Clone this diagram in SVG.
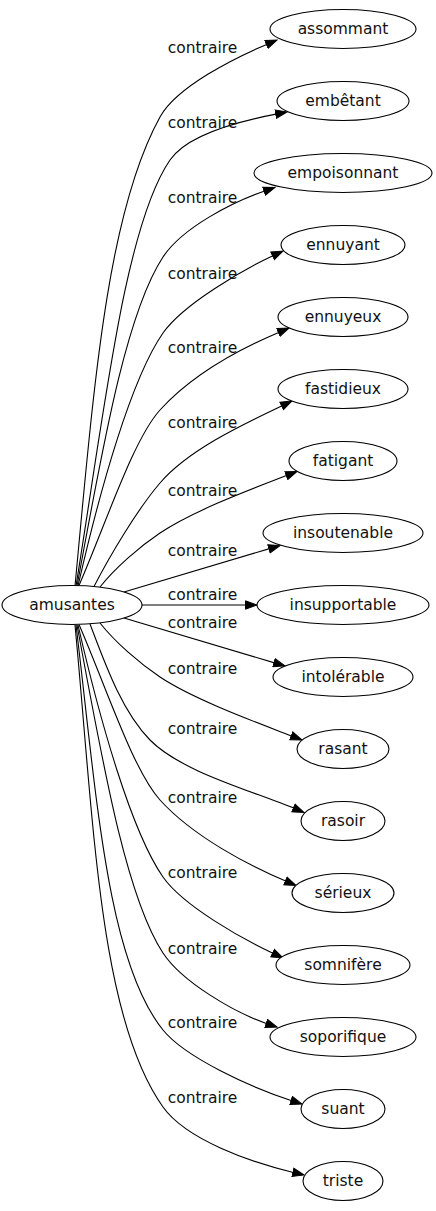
<svg xmlns="http://www.w3.org/2000/svg" width="436" height="1211" viewBox="0 0 436 1211">
<style>
.n ellipse{fill:#fff;stroke:#000;stroke-width:1.1}
text{font-family:"DejaVu Sans",sans-serif;font-size:15.5px;fill:#111;text-anchor:middle}
.e path{fill:none;stroke:#000;stroke-width:1.1;marker-end:url(#ah)}
</style>
<defs>
<marker id="ah" markerUnits="userSpaceOnUse" viewBox="-2 -5 13 10" markerWidth="13" markerHeight="10" refX="0" refY="0" orient="auto">
<path d="M-1.5,-4.2 L10,0 L-1.5,4.2 Z" fill="#000" stroke="#000" stroke-width="1"/>
</marker>
</defs>
<rect width="436" height="1211" fill="#fff"/>
<g id="connectors" class="e">
<path d="M75,586 C93.8,387 106.8,213.25 160,117 C177,86.4 235.6,57.55 267.8,43.9"/>
<path d="M76,586 C104.8,408.3 124.8,226 170,160 C187,135.25 237.9,121.4 277.2,113.9"/>
<path d="M77,586 C100.9,458.2 124.5,315.5 163,257 C182.25,227.8 232.4,202 265.5,190.7"/>
<path d="M78,586 C100.2,488.5 131.5,378.1 163,333 C183,304.3 242.3,270.1 273.95,255.25"/>
<path d="M79,585.5 C107,520.8 133.2,439.7 160,410 C193.6,372.9 243,347.5 279.8,331.9"/>
<path d="M94,586.5 C109.75,555.85 137.2,509.6 160,483 C189.3,448.8 247,422.6 283,405.3"/>
<path d="M100,587 C115,568 139.2,546.9 160,533 C193.3,510.8 250.4,489.5 287.7,475.1"/>
<path d="M124,592 C170,578 220,563 270.4,548.4"/>
<path d="M142,605 L247,605"/>
<path d="M124,618 C170,632 220,647 275.4,663.1"/>
<path d="M100,623 C115,642 139.2,663.1 160,677 C193.3,699.2 255.35,722 292.67,736.4"/>
<path d="M90,624 C105.75,665.6 122,711.4 150,740 C181.5,772.1 253.4,791.05 294.8,808.6"/>
<path d="M79,624.5 C107,689.2 133.2,770.3 160,800 C193.6,837.1 250,866 286.8,881.6"/>
<path d="M78,625 C100.2,721.5 131.5,831.9 163,877 C183,905.7 242.3,939 273.95,953.75"/>
<path d="M77,625 C100.9,751.8 124.5,894.5 163,953 C182.25,982.2 234.5,1012.6 267.6,1023.9"/>
<path d="M76,625 C96.4,792.8 106.5,960 163,1030 C185,1057.2 249.7,1087.1 292.5,1100.9"/>
<path d="M75,625 C93.8,823 99.2,1017.5 163,1107 C186.2,1139.6 250.5,1162.35 294.3,1172.7"/>
<text x="202.5" y="53">contraire</text>
<text x="202.5" y="128">contraire</text>
<text x="202.5" y="203">contraire</text>
<text x="202.5" y="279">contraire</text>
<text x="202.5" y="353">contraire</text>
<text x="202.5" y="428">contraire</text>
<text x="202.5" y="496">contraire</text>
<text x="202.5" y="556">contraire</text>
<text x="202.5" y="600">contraire</text>
<text x="202.5" y="628">contraire</text>
<text x="202.5" y="674">contraire</text>
<text x="202.5" y="734">contraire</text>
<text x="202.5" y="803">contraire</text>
<text x="202.5" y="878">contraire</text>
<text x="202.5" y="954">contraire</text>
<text x="202.5" y="1028">contraire</text>
<text x="202.5" y="1103">contraire</text>
</g>
<g id="node-amusantes" class="n"><ellipse cx="72" cy="605" rx="70" ry="19.5"/><text x="72" y="610">amusantes</text></g>
<g id="node-assommant" class="n"><ellipse cx="343" cy="29" rx="73" ry="19.5"/><text x="343" y="34">assommant</text></g>
<g id="node-embetant" class="n"><ellipse cx="343" cy="101" rx="66" ry="19.5"/><text x="343" y="106">embêtant</text></g>
<g id="node-empoisonnant" class="n"><ellipse cx="343" cy="173" rx="89" ry="19.5"/><text x="343" y="178">empoisonnant</text></g>
<g id="node-ennuyant" class="n"><ellipse cx="343" cy="245" rx="62" ry="19.5"/><text x="343" y="250">ennuyant</text></g>
<g id="node-ennuyeux" class="n"><ellipse cx="343" cy="317" rx="65" ry="19.5"/><text x="343" y="322">ennuyeux</text></g>
<g id="node-fastidieux" class="n"><ellipse cx="343" cy="389" rx="65" ry="19.5"/><text x="343" y="394">fastidieux</text></g>
<g id="node-fatigant" class="n"><ellipse cx="343" cy="461" rx="54" ry="19.5"/><text x="343" y="466">fatigant</text></g>
<g id="node-insoutenable" class="n"><ellipse cx="343" cy="533" rx="80" ry="19.5"/><text x="343" y="538">insoutenable</text></g>
<g id="node-insupportable" class="n"><ellipse cx="343" cy="605" rx="86" ry="19.5"/><text x="343" y="610">insupportable</text></g>
<g id="node-intolerable" class="n"><ellipse cx="343" cy="677" rx="70" ry="19.5"/><text x="343" y="682">intolérable</text></g>
<g id="node-rasant" class="n"><ellipse cx="343" cy="749" rx="46" ry="19.5"/><text x="343" y="754">rasant</text></g>
<g id="node-rasoir" class="n"><ellipse cx="343" cy="821" rx="42" ry="19.5"/><text x="343" y="826">rasoir</text></g>
<g id="node-serieux" class="n"><ellipse cx="343" cy="893" rx="51" ry="19.5"/><text x="343" y="898">sérieux</text></g>
<g id="node-somnifere" class="n"><ellipse cx="343" cy="965" rx="67" ry="19.5"/><text x="343" y="970">somnifère</text></g>
<g id="node-soporifique" class="n"><ellipse cx="343" cy="1037" rx="73" ry="19.5"/><text x="343" y="1042">soporifique</text></g>
<g id="node-suant" class="n"><ellipse cx="343" cy="1109" rx="42" ry="19.5"/><text x="343" y="1114">suant</text></g>
<g id="node-triste" class="n"><ellipse cx="343" cy="1181" rx="40" ry="19.5"/><text x="343" y="1186">triste</text></g>
</svg>
